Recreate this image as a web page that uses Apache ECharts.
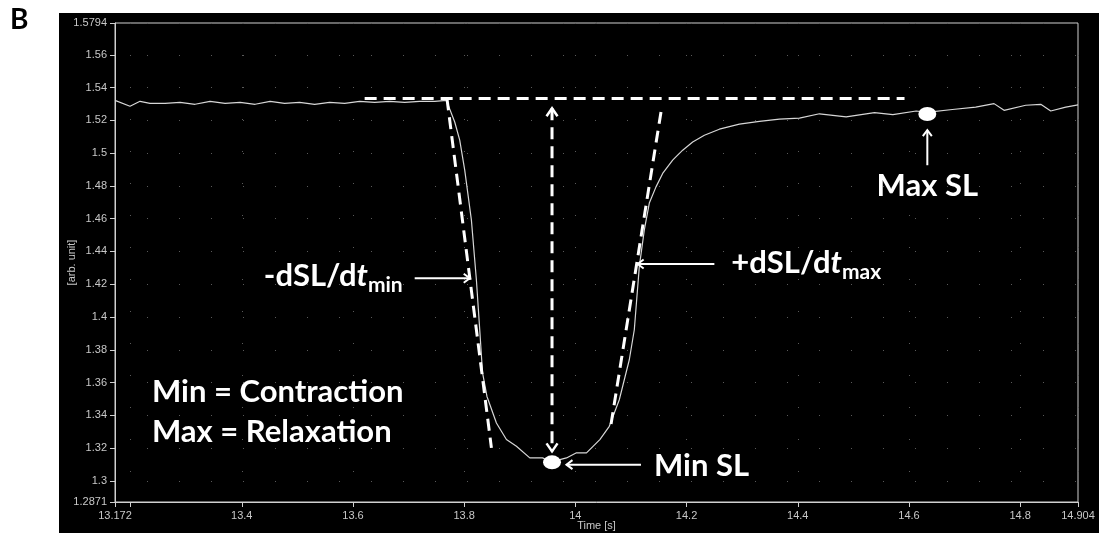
<!DOCTYPE html>
<html>
<head>
<meta charset="utf-8">
<title>Sarcomere length transient</title>
<script src="https://cdn.jsdelivr.net/npm/echarts@6/dist/echarts.min.js"></script>
<style>
  html, body { margin: 0; padding: 0; background: #fff; }
  #panel { position: absolute; left: 59px; top: 13px; width: 1040px; height: 520px; background: #000; }
  #chart { position: absolute; left: 0; top: 0; width: 1099px; height: 533px; }
</style>
</head>
<body>
<div id="panel"></div>
<div id="chart"></div>
<script>
// Sarcomere length trace over one twitch
const timeS = [
  13.172, 13.199, 13.217, 13.235, 13.262, 13.289, 13.316, 13.343, 13.370, 13.397,
  13.424, 13.451, 13.477, 13.504, 13.531, 13.558, 13.585, 13.612, 13.639, 13.666,
  13.693, 13.720, 13.747, 13.768, 13.783, 13.792, 13.801, 13.813, 13.822, 13.828,
  13.833, 13.841, 13.858, 13.876, 13.894, 13.918, 13.941, 13.955, 13.972, 13.984,
  14.002, 14.020, 14.044, 14.061, 14.079, 14.097, 14.106, 14.115, 14.124, 14.133,
  14.145, 14.157, 14.175, 14.193, 14.211, 14.232, 14.259, 14.295, 14.331, 14.367,
  14.403, 14.439, 14.487, 14.538, 14.571, 14.613, 14.632, 14.678, 14.720, 14.753,
  14.771, 14.810, 14.837, 14.855, 14.882, 14.904
];
const sarcomereLength = [
  1.5322, 1.5286, 1.5316, 1.5304, 1.5304, 1.5310, 1.5298, 1.5316, 1.5304, 1.5310,
  1.5298, 1.5316, 1.5304, 1.5310, 1.5298, 1.5310, 1.5304, 1.5316, 1.5310, 1.5316,
  1.5310, 1.5316, 1.5316, 1.5322, 1.5190, 1.5079, 1.4896, 1.4591, 1.4226, 1.3922,
  1.3660, 1.3515, 1.3353, 1.3252, 1.3211, 1.3140, 1.3140, 1.3118, 1.3130, 1.3140,
  1.3171, 1.3171, 1.3252, 1.3333, 1.3495, 1.3739, 1.3922, 1.4307, 1.4531, 1.4695,
  1.4794, 1.4876, 1.4957, 1.5018, 1.5068, 1.5109, 1.5146, 1.5177, 1.5194, 1.5207,
  1.5213, 1.5240, 1.5221, 1.5247, 1.5235, 1.5257, 1.5249, 1.5266, 1.5281, 1.5302,
  1.5261, 1.5292, 1.5298, 1.5257, 1.5281, 1.5294
];

// Axis ranges and ticks
const xRange = [13.172, 14.904];
const yRange = [1.2871, 1.5794];
const xTickValues = [13.172, 13.2, 13.4, 13.6, 13.8, 14, 14.2, 14.4, 14.6, 14.8, 14.904];
const xLabelValues = [13.172, 13.4, 13.6, 13.8, 14, 14.2, 14.4, 14.6, 14.8, 14.904];
const yTickValues = [1.2871, 1.3, 1.32, 1.34, 1.36, 1.38, 1.4, 1.42, 1.44, 1.46,
  1.48, 1.5, 1.52, 1.54, 1.56, 1.5794];

// Derived measures: resting level, max slopes, amplitude, extrema
const restingLevel = [[13.621, 1.5334], [14.592, 1.5334]];
const contractionSlope = [[13.769, 1.5334], [13.849, 1.3201]];
const relaxationSlope = [[14.154, 1.5251], [14.064, 1.3343]];
const amplitudeSpan = [[13.958, 1.5274], [13.958, 1.3180]];
const minSL = [13.958, 1.3113];
const maxSL = [14.633, 1.5239];

const traceData = timeS.map((t, i) => [t, sarcomereLength[i]]);

const LABEL_FONT = 'Lato, "Open Sans", sans-serif';
const TICK_FONT = '"Liberation Sans Narrow", "Liberation Sans", Arial, sans-serif';
const measureCtx = document.createElement('canvas').getContext('2d');
function textWidth(text, font) {
  measureCtx.font = font;
  return measureCtx.measureText(text).width;
}
const fmt = v => String(parseFloat(Number(v).toFixed(4)));

// Callout arrows (data space) with their captions
const callouts = [
  { from: [13.711, 1.4236], to: [13.810, 1.4236],
    caption: { segs: [['-dSL/d', 'main'], ['t', 'ital'], ['min', 'sub']], align: 'right', dx: -12, dy: -2 } },
  { from: [14.250, 1.4323], to: [14.112, 1.4323],
    caption: { segs: [['+dSL/d', 'main'], ['t', 'ital'], ['max', 'sub']], align: 'left', dx: 17, dy: -1 } },
  { from: [14.118, 1.3099], to: [13.984, 1.3099],
    caption: { segs: [['Min SL', 'main']], align: 'left', dx: 13, dy: 1 } },
  { from: [14.633, 1.4926], to: [14.633, 1.5140],
    caption: { segs: [['Max SL', 'main']], align: 'center', dx: 0, dy: 21 } }
];
const legendLines = [
  { at: [13.2385, 1.3540], text: 'Min = Contraction' },
  { at: [13.2385, 1.3296], text: 'Max = Relaxation' }
];

const fonts = {
  main: 'bold 31px ' + LABEL_FONT,
  ital: 'italic bold 31px ' + LABEL_FONT,
  sub: 'bold 21px ' + LABEL_FONT
};
const segOffsetY = { main: 0, ital: 0, sub: 9 };

function chevron(tip, from, len, half, width) {
  const dx = tip[0] - from[0], dy = tip[1] - from[1];
  const d = Math.hypot(dx, dy) || 1;
  const ux = dx / d, uy = dy / d;
  const bx = tip[0] - ux * len, by = tip[1] - uy * len;
  return {
    type: 'polyline',
    shape: { points: [[bx - uy * half, by + ux * half], tip, [bx + uy * half, by - ux * half]] },
    style: { stroke: '#fff', lineWidth: width, fill: null, lineJoin: 'miter' }
  };
}

function dashedLine(a, b) {
  return {
    type: 'line',
    shape: { x1: a[0], y1: a[1], x2: b[0], y2: b[1] },
    style: { stroke: '#fff', lineWidth: 3, lineDash: [12, 7] }
  };
}

function caption(children, x, y, segs, align) {
  const widths = segs.map(s => textWidth(s[0], fonts[s[1]]));
  const total = widths.reduce((a, b) => a + b, 0);
  let cx = align === 'right' ? x - total : align === 'center' ? x - total / 2 : x;
  segs.forEach((s, i) => {
    children.push({
      type: 'text',
      style: {
        text: s[0], x: cx, y: y + segOffsetY[s[1]], font: fonts[s[1]], fill: '#fff',
        align: 'left', verticalAlign: 'middle', textAlign: 'left', textVerticalAlign: 'middle'
      }
    });
    cx += widths[i];
  });
}

function renderAnnotations(params, api) {
  const P = p => api.coord(p);
  const children = [];
  children.push(dashedLine(P(restingLevel[0]), P(restingLevel[1])));
  children.push(dashedLine(P(contractionSlope[0]), P(contractionSlope[1])));
  children.push(dashedLine(P(relaxationSlope[0]), P(relaxationSlope[1])));

  const aTop = P(amplitudeSpan[0]), aBot = P(amplitudeSpan[1]);
  children.push(dashedLine(aTop, aBot));
  children.push(chevron(aTop, aBot, 8, 5.5, 2.5));
  children.push(chevron(aBot, aTop, 8, 5.5, 2.5));

  callouts.forEach(c => {
    const f = P(c.from), t = P(c.to);
    children.push({
      type: 'line', shape: { x1: f[0], y1: f[1], x2: t[0], y2: t[1] },
      style: { stroke: '#fff', lineWidth: 2 }
    });
    children.push(chevron(t, f, 6, 4.5, 2));
    const cap = c.caption;
    caption(children, f[0] + cap.dx, f[1] + cap.dy, cap.segs, cap.align);
  });

  legendLines.forEach(l => {
    const p = P(l.at);
    caption(children, p[0], p[1], [[l.text, 'main']], 'left');
  });
  return { type: 'group', children };
}

const axisColor = '#d0d0d0';
const tickLabelStyle = { color: '#c8c8c8', fontFamily: TICK_FONT, fontSize: 11 };
const dotGrid = { show: true, lineStyle: { color: '#5a5a5a', width: 1, type: [1, 31] } };

const option = {
  animation: false,
  backgroundColor: 'transparent',
  graphic: [
    { type: 'text', left: 10, top: 6, style: { text: 'B', font: 'bold 28px ' + LABEL_FONT, fill: '#000' } }
  ],
  grid: {
    left: 115, top: 23, right: 21, bottom: 31,
    outerBoundsMode: 'none', containLabel: false,
    show: true, borderColor: axisColor, borderWidth: 1, backgroundColor: 'transparent'
  },
  xAxis: {
    type: 'value', min: xRange[0], max: xRange[1],
    name: 'Time [s]', nameLocation: 'middle', nameGap: 18, nameMoveOverlap: false,
    nameTextStyle: { color: '#c8c8c8', fontFamily: TICK_FONT, fontSize: 11 },
    axisLine: { show: true, lineStyle: { color: axisColor, width: 1 } },
    axisTick: { show: true, customValues: xTickValues, length: 5, lineStyle: { color: axisColor } },
    axisLabel: Object.assign({ customValues: xLabelValues, formatter: fmt, margin: 8, showMinLabel: true, showMaxLabel: true }, tickLabelStyle),
    splitLine: dotGrid
  },
  yAxis: {
    type: 'value', min: yRange[0], max: yRange[1],
    name: '[arb. unit]', nameLocation: 'middle', nameGap: 38, nameRotate: 90, nameMoveOverlap: false,
    nameTextStyle: { color: '#c8c8c8', fontFamily: TICK_FONT, fontSize: 11 },
    axisLine: { show: true, lineStyle: { color: axisColor, width: 1 } },
    axisTick: { show: true, customValues: yTickValues, length: 5, lineStyle: { color: axisColor } },
    axisLabel: Object.assign({ customValues: yTickValues, formatter: fmt, margin: 8, showMinLabel: true, showMaxLabel: true }, tickLabelStyle),
    splitLine: dotGrid
  },
  series: [
    {
      type: 'line', name: 'SL', data: traceData, showSymbol: false, symbol: 'none',
      lineStyle: { color: '#d6d6d6', width: 1.2 }, z: 3, silent: true
    },
    {
      type: 'custom', name: 'annotations', coordinateSystem: 'cartesian2d',
      data: [[13.5, 1.4]], renderItem: renderAnnotations, clip: false, z: 5, silent: true
    },
    {
      type: 'scatter', name: 'extrema', data: [minSL, maxSL], symbol: 'circle',
      symbolSize: [18, 14], itemStyle: { color: '#fff', opacity: 1 }, z: 6, silent: true
    }
  ]
};

const chart = echarts.init(document.getElementById('chart'));
chart.setOption(option);
</script>
</body>
</html>
